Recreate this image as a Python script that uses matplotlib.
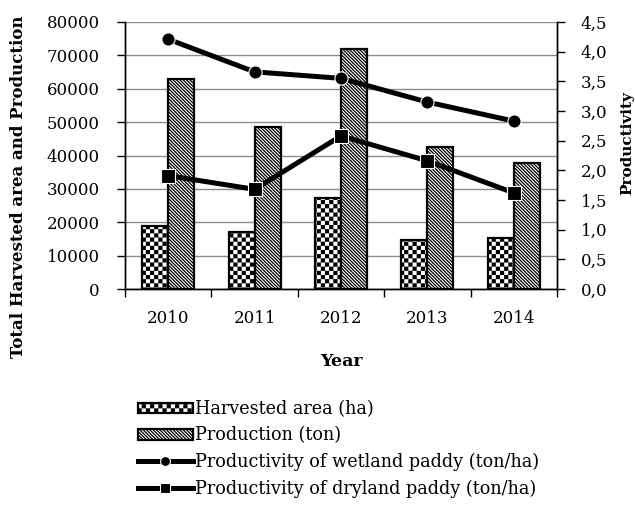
import warnings
import numpy as np
import matplotlib
matplotlib.use("Agg")
import matplotlib.pyplot as plt
from matplotlib import hatch as mhatch
from matplotlib.path import Path
from matplotlib.ticker import FuncFormatter, MultipleLocator

warnings.filterwarnings("ignore")

# ── Data ─────────────────────────────────────────────────────────────────────

years      = ["2010", "2011", "2012", "2013", "2014"]
harvested  = [19000, 17000, 27200, 14700, 15400]     # ha
production = [62800, 48600, 71900, 42600, 37700]     # ton
wetland    = [4.21, 3.66, 3.55, 3.15, 2.83]          # ton/ha
dryland    = [1.91, 1.68, 2.58, 2.16, 1.62]          # ton/ha

# ── Checkerboard hatch ('c') ─────────────────────────────────────────────────

class CheckerHatch(mhatch.HatchPatternBase):
    def __init__(self, hatch, density):
        self.num_cells = hatch.count("c") * density * 2
        self.num_vertices = (self.num_cells ** 2 // 2) * 5

    def set_vertices_and_codes(self, vertices, codes):
        n = self.num_cells
        step = 1.0 / n
        inset = 0.006          # compensate for the hatch stroke width
        k = 0
        for i in range(n):
            for j in range(n):
                if (i + j) % 2:
                    continue
                x0, y0 = i * step + inset, j * step + inset
                x1, y1 = (i + 1) * step - inset, (j + 1) * step - inset
                vertices[k:k + 5] = [(x0, y0), (x1, y0), (x1, y1), (x0, y1), (x0, y0)]
                codes[k:k + 5] = [Path.MOVETO, Path.LINETO, Path.LINETO,
                                  Path.LINETO, Path.CLOSEPOLY]
                k += 5

mhatch._hatch_types.append(CheckerHatch)

plt.rcParams["font.family"] = ["DejaVu Serif"]
plt.rcParams["hatch.linewidth"] = 0.9

# ── Figure ───────────────────────────────────────────────────────────────────

fig = plt.figure(figsize=(6.35, 5.05), dpi=100)
ax = fig.add_axes([125 / 635, 1 - 289 / 505, 432 / 635, 267 / 505])
ax2 = ax.twinx()

x = np.arange(len(years))
w = 0.3

ax.bar(x - w / 2, harvested, w, color="white", edgecolor="black",
       linewidth=1.6, hatch="cc", label="Harvested area (ha)", zorder=3)
ax.bar(x + w / 2, production, w, color="white", edgecolor="black",
       linewidth=1.6, hatch="\\" * 10, label="Production (ton)", zorder=3)

ax2.plot(x, wetland, color="black", linewidth=3.6, marker="o", markersize=9.5,
         markeredgecolor="white", markeredgewidth=0.8,
         label="Productivity of wetland paddy (ton/ha)")
ax2.plot(x, dryland, color="black", linewidth=3.6, marker="s", markersize=10.5,
         markeredgecolor="white", markeredgewidth=0.8,
         label="Productivity of dryland paddy (ton/ha)")

# left axis
ax.set_xlim(-0.5, len(years) - 0.5)
ax.set_ylim(0, 80000)
ax.yaxis.set_major_locator(MultipleLocator(10000))
ax.grid(axis="y", color="#8c8c8c", linewidth=1.0, zorder=0)
ax.set_axisbelow(True)
ax.tick_params(axis="y", labelsize=12, length=6, width=1, pad=12, colors="black")
ax.set_xticks(x)
ax.set_xticklabels(years)
ax.set_xticks(np.arange(len(years) + 1) - 0.5, minor=True)
ax.tick_params(axis="x", which="major", length=0, labelsize=12, pad=15)
ax.tick_params(axis="x", which="minor", length=6, width=1)
ax.set_xlabel("Year", fontsize=12.5, fontweight="bold", labelpad=19)

# right axis
ax2.set_ylim(0, 4.5)
ax2.yaxis.set_major_locator(MultipleLocator(0.5))
ax2.yaxis.set_major_formatter(FuncFormatter(lambda v, _: f"{v:.1f}".replace(".", ",")))
ax2.tick_params(axis="y", labelsize=12, length=6, width=1, pad=11)

for a in (ax, ax2):
    a.spines["top"].set_visible(False)
    for s in ("left", "right", "bottom"):
        a.spines[s].set_linewidth(1.0)

fig.text(19 / 635, 1 - 187 / 505, "Total Harvested area and Production",
         rotation=90, ha="center", va="center", fontsize=12, fontweight="bold")
fig.text(627 / 635, 1 - 143 / 505, "Productivity",
         rotation=90, ha="center", va="center", fontsize=11, fontweight="bold")

# ── Legend ───────────────────────────────────────────────────────────────────

h1, l1 = ax.get_legend_handles_labels()
h2, l2 = ax2.get_legend_handles_labels()
fig.legend(h1 + h2, l1 + l2, loc="upper left",
           bbox_to_anchor=(131 / 635, 1 - 393 / 505),
           frameon=False, fontsize=12.7, handlelength=3.1, handleheight=0.55,
           handletextpad=0.15, labelspacing=0.48, borderaxespad=0,
           markerscale=0.75)

fig.savefig("out.png", dpi=100)
